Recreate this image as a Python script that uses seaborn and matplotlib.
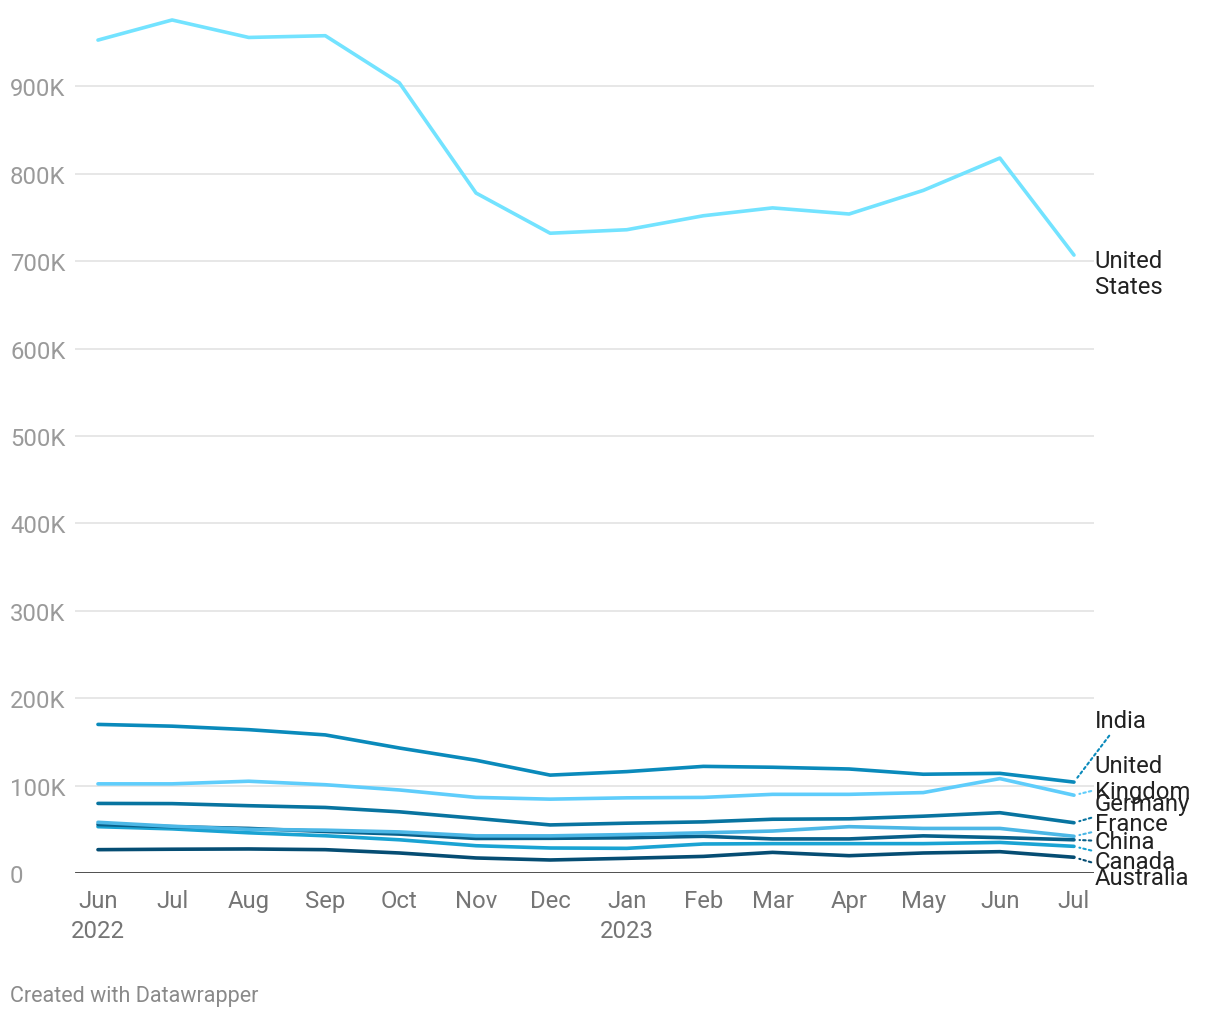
import pandas as pd
import numpy as np
import seaborn as sns
import matplotlib.pyplot as plt
import matplotlib.dates as mdates

months = pd.date_range("2022-06-01", "2023-07-01", freq="MS")

# values in thousands
us = [953, 976, 956, 958, 904, 778, 732, 736, 752, 761, 754, 781, 818, 707]
india = [170, 168, 164, 158, 143, 129, 112, 116, 122, 121, 119, 113, 114, 104]
uk = [102, 102, 105, 101, 95, 86.5, 84.5, 86, 86.5, 90, 90, 92, 108, 89]
germany = [79.6, 79.4, 77, 75, 70, 62.5, 55, 57, 58.5, 61.5, 62, 65, 69, 57.5]
france = [58, 53.5, 50, 49, 47, 42.5, 42.5, 44, 46, 48, 53, 51, 51, 42]
china = [55.5, 53, 51, 47.5, 44.5, 39.5, 39.7, 40.3, 42, 39, 39, 42.5, 40.5, 38]
canada = [53, 50.5, 46, 42.6, 38, 31.2, 28.6, 28.2, 33.2, 33.6, 33.6, 33.6, 35, 30.5]
australia = [26.7, 27.2, 27.5, 26.7, 22.9, 17.2, 14.9, 16.8, 19, 23.6, 19.8, 22.9, 24.4, 18]

countries = ["United States", "India", "United Kingdom", "Germany",
             "France", "China", "Canada", "Australia"]
series = [us, india, uk, germany, france, china, canada, australia]
colors = ["#73e3ff", "#0a8abb", "#5fcdfb", "#0874a0",
          "#4cb7e6", "#08608a", "#1aa3d3", "#054d73"]

# where the end labels sit (y, in thousands) and their text
label_text = ["United\nStates", "India", "United\nKingdom", "Germany",
              "France", "China", "Canada", "Australia"]
label_pos = [686, 174, 108, 80, 57, 35.5, 13.7, -4.6]

rows = []
for name, vals in zip(countries, series):
    for m, v in zip(months, vals):
        rows.append({"month": m, "country": name, "value": v * 1000})
df = pd.DataFrame(rows)

sns.set_style("white")
plt.rcParams["font.family"] = ["Roboto", "DejaVu Sans"]
fs = 17.2

fig = plt.figure(figsize=(12.2, 10.2), dpi=100)
ax = fig.add_axes([75 / 1220, 1 - 874 / 1020, (1094 - 75) / 1220, 874 / 1020])

sns.lineplot(data=df, x="month", y="value", hue="country",
             palette=dict(zip(countries, colors)), hue_order=countries[::-1],
             linewidth=2.6, legend=False, ax=ax)

x0 = mdates.date2num(months[0])
x1 = mdates.date2num(months[-1])
ax.set_xlim(x0 - 9.3, x1 + 8.1)
ax.set_ylim(0, 1000000)

yt = np.arange(0, 1000000, 100000)
ax.set_yticks(yt)
ax.set_yticklabels(["0" if v == 0 else f"{int(v / 1000)}K" for v in yt])
ax.set_xticks(months)
xl = []
for m in months:
    s = m.strftime("%b")
    if m.month == 6 and m.year == 2022 or m.month == 1:
        s += "\n" + str(m.year)
    xl.append(s)
ax.set_xticklabels(xl, linespacing=1.38)

ax.tick_params(axis="y", length=0, pad=46.8, labelsize=fs, labelcolor="#9a9a9a")
for t in ax.get_yticklabels():
    t.set_horizontalalignment("left")
ax.tick_params(axis="x", length=0, pad=11.5, labelsize=fs, labelcolor="#757575")
for t in ax.get_xticklabels():
    t.set_verticalalignment("top")

for v in yt[1:]:
    ax.axhline(v, color="#e3e3e3", lw=1.2, zorder=0)
ax.axhline(0, color="#1a1a1a", lw=1.8, zorder=5)
for s in ax.spines.values():
    s.set_visible(False)
ax.set_xlabel("")
ax.set_ylabel("")

for i, name in enumerate(countries):
    end = series[i][-1] * 1000
    ly = label_pos[i] * 1000
    if i == 0:
        props = None
    else:
        props = dict(arrowstyle="-", linestyle=(0, (1.2, 1.5)), color=colors[i],
                     lw=1.5, shrinkA=0, shrinkB=4)
    ax.annotate(label_text[i], xy=(mdates.date2num(months[-1]), end),
                xytext=(1.0005, ly), textcoords=("axes fraction", "data"),
                ha="left", va="center", fontsize=fs, color="#222222",
                linespacing=1.2, arrowprops=props, annotation_clip=False)

fig.text(10 / 1220, 1 - 997 / 1020, "Created with Datawrapper",
         fontsize=15.5, color="#8a8a8a", va="center", ha="left")

fig.savefig("out.png", dpi=100)
